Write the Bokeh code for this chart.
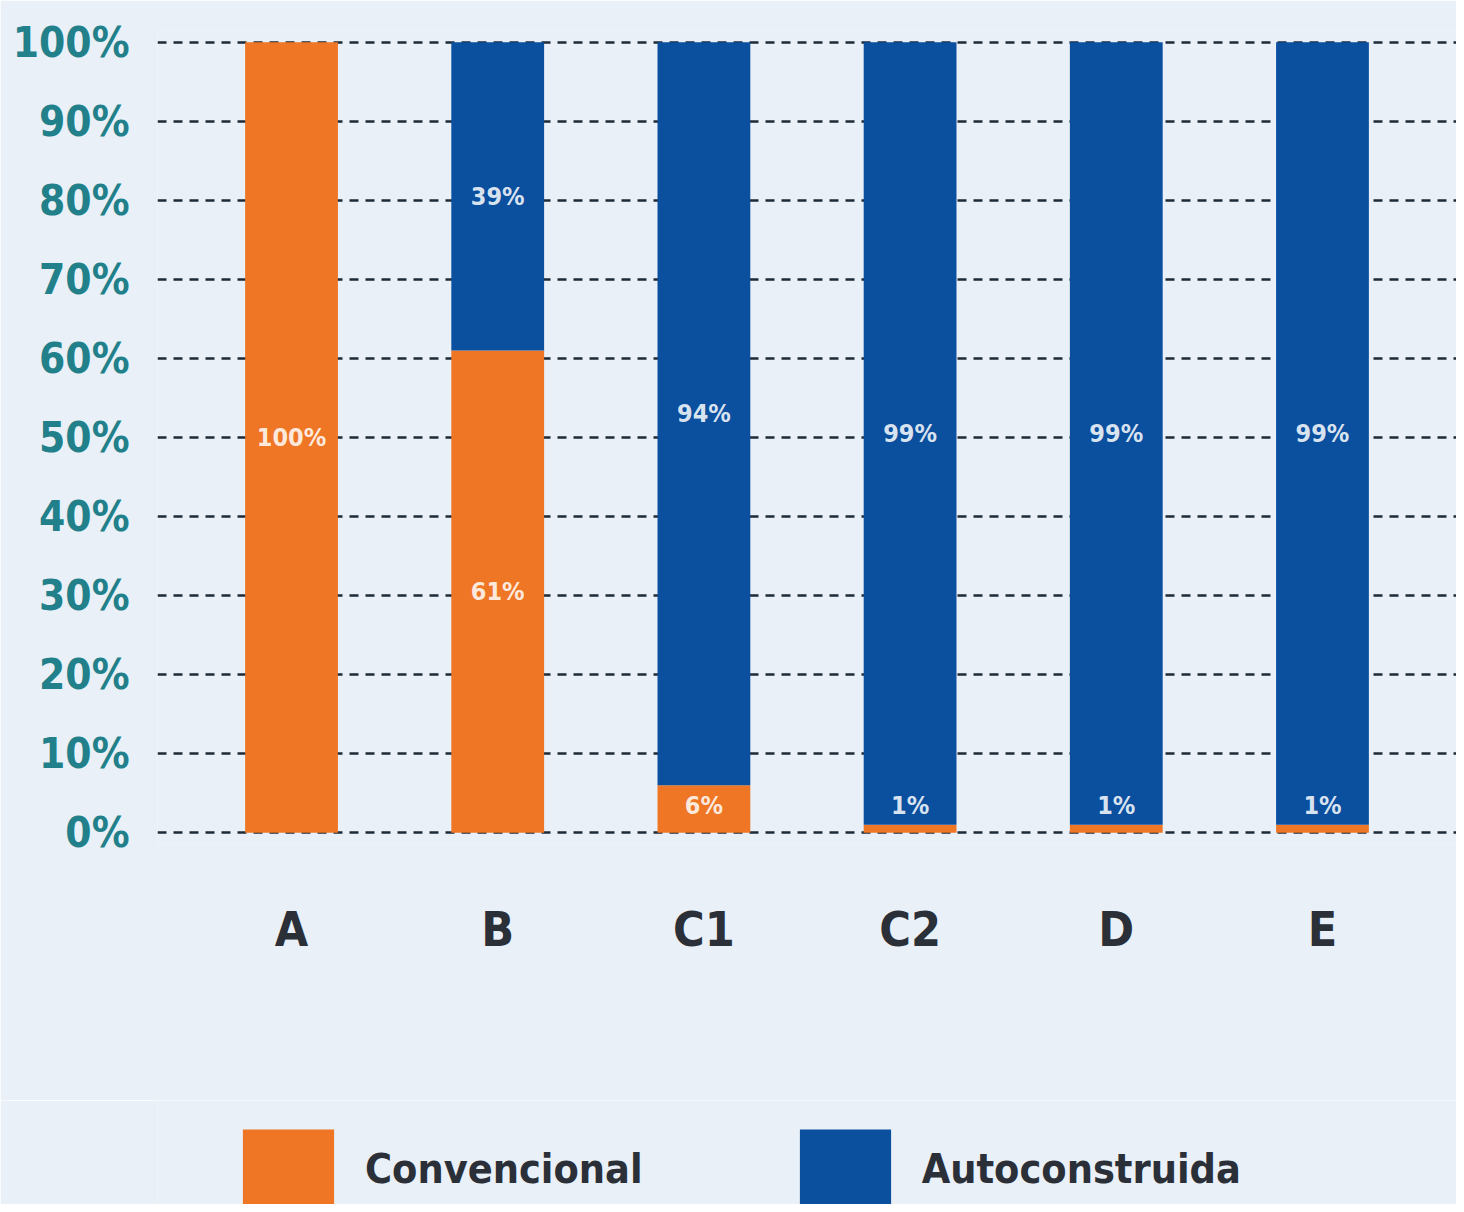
from bokeh.plotting import figure
from bokeh.layouts import column
from bokeh.models import (FactorRange, Range1d, ColumnDataSource, Legend, LegendItem,
                          CustomJSTickFormatter)
from bokeh.core.properties import value
from bokeh.embed import file_html
from bokeh.resources import INLINE

categories = ["A", "B", "C1", "C2", "D", "E"]
convencional = [100, 61, 6, 1, 1, 1]
autoconstruida = [0, 39, 94, 99, 99, 99]
series_names = ["Convencional", "Autoconstruida"]
y_ticks = [0, 10, 20, 30, 40, 50, 60, 70, 80, 90, 100]

ORANGE = "#ee7624"
BLUE = "#0b4f9f"
BG = "#e9f0f7"
FONT = "DejaVu Sans Condensed"
colors = [ORANGE, BLUE]

src = ColumnDataSource(dict(cat=categories, conv=convencional, auto=autoconstruida))

p = figure(x_range=FactorRange(*categories, range_padding=0.15, range_padding_units="absolute"),
           y_range=Range1d(-1.5, 101.5),
           width=1456, height=1100, output_backend="svg", toolbar_location=None,
           background_fill_color=BG, border_fill_color=BG,
           min_border_left=157, min_border_right=0, min_border_top=30, min_border_bottom=256)
p.outline_line_color = None
p.xgrid.grid_line_color = None
p.ygrid.grid_line_color = "#1c2b3a"
p.ygrid.grid_line_width = 2.5
p.ygrid.grid_line_dash = "9 7"
p.ygrid.ticker = y_ticks
p.yaxis.ticker = y_ticks

r = p.vbar_stack(["conv", "auto"], x="cat", width=0.45, source=src,
                 color=colors, line_color=None)

# value labels
lab_x, lab_y, lab_t = [], [], []
for c, cv, av in zip(categories, convencional, autoconstruida):
    if cv > 0:
        lab_x.append(c); lab_y.append(max(cv / 2, 3.4)); lab_t.append(f"{cv}%")
    if av > 0:
        lab_x.append(c); lab_y.append(cv + av / 2); lab_t.append(f"{av}%")
p.text(x=lab_x, y=lab_y, text=lab_t, text_align="center", text_baseline="middle",
       text_color="#ffffff", text_alpha=0.85, text_font_size="25px",
       text_font=value(FONT), text_font_style="bold")

for ax in (p.xaxis, p.yaxis):
    ax.axis_line_color = None
    ax.major_tick_line_color = None
    ax.minor_tick_line_color = None
p.yaxis.formatter = CustomJSTickFormatter(code="return tick + '%';")
p.yaxis.major_label_text_font = FONT
p.yaxis.major_label_text_font_size = "42px"
p.yaxis.major_label_text_font_style = "bold"
p.yaxis.major_label_text_color = "#21808a"
p.yaxis.major_label_standoff = 22
p.xaxis.major_label_text_font = FONT
p.xaxis.major_label_text_font_size = "48px"
p.xaxis.major_label_text_font_style = "bold"
p.xaxis.major_label_text_color = "#2a2f38"
p.xaxis.major_label_standoff = 50

# legend strip below the chart
p2 = figure(width=1456, height=104, output_backend="svg", toolbar_location=None,
            x_range=FactorRange(*categories), y_range=Range1d(0, 1),
            x_axis_type=None, y_axis_type=None,
            background_fill_color=BG, border_fill_color=BG,
            min_border_left=0, min_border_right=0, min_border_top=0, min_border_bottom=0)
p2.outline_line_color = None
p2.grid.visible = False
swatches = p2.vbar_stack(["conv", "auto"], x="cat", width=0.45, source=src,
                         color=colors, line_color=None, visible=False)

legend = Legend(items=[LegendItem(label=n, renderers=[s]) for n, s in zip(series_names, swatches)],
                orientation="horizontal", location=(74, -15),
                glyph_width=114, glyph_height=100, label_standoff=20, spacing=145,
                padding=0, margin=0, border_line_color=None, background_fill_alpha=0,
                inactive_fill_alpha=0,
                label_text_font=FONT, label_text_font_size="41px",
                label_text_color="#2a2f38", label_text_font_style="bold")
p2.add_layout(legend, "center")

open("out.html", "w").write(file_html(column(p, p2, spacing=0), INLINE))
